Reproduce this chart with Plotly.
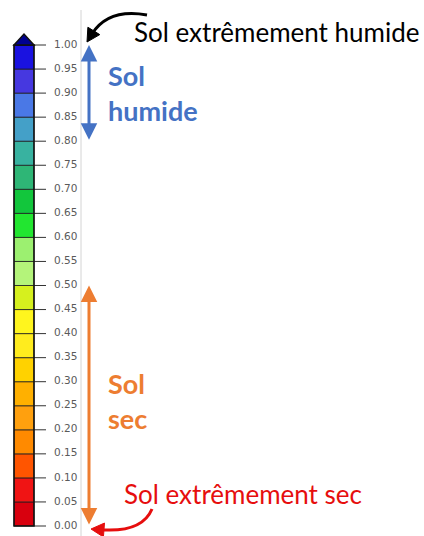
import math
import plotly.graph_objects as go

# ---------------- data ----------------
tick_values = [0.00, 0.05, 0.10, 0.15, 0.20, 0.25, 0.30, 0.35, 0.40, 0.45, 0.50,
               0.55, 0.60, 0.65, 0.70, 0.75, 0.80, 0.85, 0.90, 0.95, 1.00]
tick_labels = ["0.00", "0.05", "0.10", "0.15", "0.20", "0.25", "0.30", "0.35", "0.40", "0.45", "0.50",
               "0.55", "0.60", "0.65", "0.70", "0.75", "0.80", "0.85", "0.90", "0.95", "1.00"]
segment_colors = ["#d8000e", "#f01414", "#ff5500", "#ff8a00", "#ffa00e", "#ffb000",
                  "#ffd200", "#ffec1e", "#fff51e", "#d6f01e", "#b4f47a", "#9cf070",
                  "#22e630", "#12c63c", "#2eb676", "#38b2a0", "#44a0c8", "#4a78e6",
                  "#4638e0", "#1a12e0"]
wet_range = [0.80, 1.00]
dry_range = [0.00, 0.50]
label_top = "Sol extrêmement humide"
label_bottom = "Sol extrêmement sec"
label_wet = ["Sol", "humide"]
label_dry = ["Sol", "sec"]

# ---------------- geometry (pixels) ----------------
W, H = 424, 536
PX_TOP, PX_BOT = 45, 526           # pixel rows of value 1.0 and 0.0
SCALE = PX_BOT - PX_TOP
y_lo = -(H - PX_BOT) / SCALE
y_hi = 1 + PX_TOP / SCALE
BAR_X0, BAR_X1 = 14, 34
bar_cx = (BAR_X0 + BAR_X1) / 2

fig = go.Figure()

# colour bar segments
heights = [b - a for a, b in zip(tick_values[:-1], tick_values[1:])]
fig.add_trace(go.Bar(
    x=[bar_cx] * len(heights), y=heights, base=tick_values[:-1],
    width=BAR_X1 - BAR_X0, marker=dict(color=segment_colors,
                                       line=dict(color="rgba(30,30,30,0.8)", width=1)),
    hoverinfo="skip", showlegend=False))

# tick marks
tx, ty = [], []
for v in tick_values:
    tx += [BAR_X1, BAR_X1 + 12, None]
    ty += [v, v, None]
fig.add_trace(go.Scatter(x=tx, y=ty, mode="lines", line=dict(color="#333333", width=1),
                         hoverinfo="skip", showlegend=False, cliponaxis=False))
# tick labels
fig.add_trace(go.Scatter(x=[54] * len(tick_values), y=tick_values, text=tick_labels,
                         mode="text", textposition="middle right", cliponaxis=False,
                         textfont=dict(family="DejaVu Sans", size=10.5, color="#5a5a5a"),
                         hoverinfo="skip", showlegend=False))

shapes = []
# outer border of the bar
shapes.append(dict(type="rect", xref="x", yref="y", x0=BAR_X0, x1=BAR_X1,
                   y0=tick_values[0], y1=tick_values[-1],
                   line=dict(color="#111111", width=1.5)))
# top triangle
tri_tip = 1 + 11 / SCALE
shapes.append(dict(type="path", xref="x", yref="y",
                   path=f"M {BAR_X0},{tick_values[-1]} L {BAR_X1},{tick_values[-1]} L {bar_cx},{tri_tip} Z",
                   fillcolor="#000090", line=dict(color="#111111", width=1.5)))
# light gray separator line
shapes.append(dict(type="line", xref="x", yref="y2", x0=81, x1=81, y0=10, y1=H,
                   line=dict(color="#d4d4d4", width=1)))


def curved_arrow(p0, c, tip, color, hl=13, hw=7, lw=3):
    dx, dy = tip[0] - c[0], tip[1] - c[1]
    n = math.hypot(dx, dy)
    ux, uy = dx / n, dy / n
    bx, by = tip[0] - ux * hl, tip[1] - uy * hl
    px, py = -uy, ux
    end_line = (tip[0] - ux * hl * 0.7, tip[1] - uy * hl * 0.7)
    shapes.append(dict(type="path", xref="x", yref="y2",
                       path=f"M {p0[0]},{p0[1]} Q {c[0]},{c[1]} {end_line[0]},{end_line[1]}",
                       line=dict(color=color, width=lw)))
    shapes.append(dict(type="path", xref="x", yref="y2",
                       path=(f"M {tip[0]},{tip[1]} L {bx + px * hw},{by + py * hw} "
                             f"L {bx - px * hw},{by - py * hw} Z"),
                       fillcolor=color, line=dict(color=color, width=1)))


curved_arrow((147, 15), (108, 8), (87, 42), "#000000")
curved_arrow((152, 509), (142, 533), (91, 529), "#e60e0e")

annotations = []
# range arrows
for rng, col in [(wet_range, "#4472c4"), (dry_range, "#ed7d31")]:
    annotations.append(dict(x=89, y=rng[1], ax=89, ay=rng[0], xref="x", yref="y",
                            axref="x", ayref="y", text="", showarrow=True,
                            arrowhead=2, startarrowhead=2, arrowside="end+start",
                            arrowsize=1.1, startarrowsize=1.1,
                            arrowwidth=3, arrowcolor=col, standoff=0, startstandoff=0))

annotations.append(dict(x=132, y=32, xref="x", yref="y2", text=label_top, showarrow=False,
                        xanchor="left", yanchor="middle",
                        font=dict(family="Lato", size=26, color="#000000")))
annotations.append(dict(x=122, y=494, xref="x", yref="y2", text=label_bottom, showarrow=False,
                        xanchor="left", yanchor="middle",
                        font=dict(family="Lato", size=26, color="#e60e0e")))
for lines, col, yc in [(label_wet, "#4472c4", 93), (label_dry, "#ed7d31", 401)]:
    annotations.append(dict(x=106, y=yc, xref="x", yref="y2",
                            text="<br>".join("<b>" + s + "</b>" for s in lines),
                            showarrow=False, xanchor="left", yanchor="middle", align="left",
                            font=dict(family="Lato", size=27, color=col)))

fig.update_layout(
    width=W, height=H, autosize=False,
    margin=dict(l=0, r=0, t=0, b=0, pad=0),
    paper_bgcolor="white", plot_bgcolor="white",
    xaxis=dict(range=[0, W], visible=False, fixedrange=True),
    yaxis=dict(range=[y_lo, y_hi], visible=False, fixedrange=True),
    yaxis2=dict(range=[H, 0], overlaying="y", visible=False, fixedrange=True),
    shapes=shapes, annotations=annotations, bargap=0, showlegend=False,
)

fig.write_html("out.html", config={"staticPlot": True},
               post_script="document.body.style.margin='0';document.body.style.padding='0';")
